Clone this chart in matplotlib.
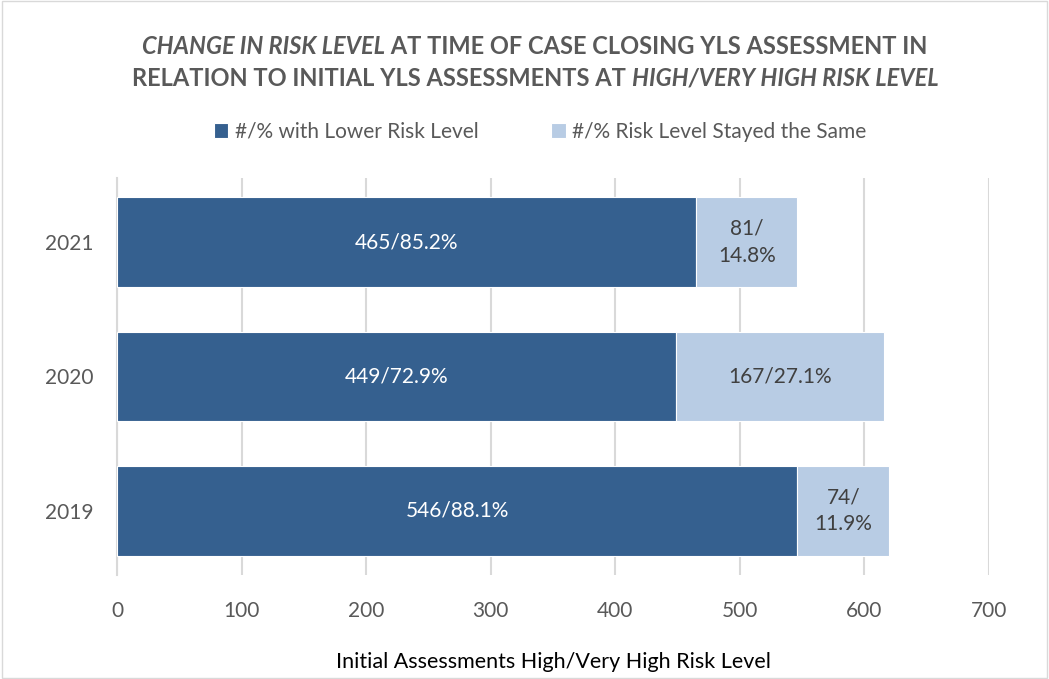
import matplotlib.pyplot as plt
import numpy as np
from matplotlib.patches import Rectangle

years = ['2019', '2020', '2021']
lower = [546, 449, 465]
same = [74, 167, 81]
lower_labels = ['546/88.1%', '449/72.9%', '465/85.2%']
same_labels = ['74/\n11.9%', '167/27.1%', '81/\n14.8%']

dark = '#35608f'
light = '#b8cce4'

plt.rcParams['font.family'] = ['Lato', 'DejaVu Sans']

fig = plt.figure(figsize=(10.49, 6.79), dpi=100)
ax = fig.add_axes([117 / 1049, 1 - 575 / 679, 872 / 1049, 397 / 679])

y = np.arange(len(years))
ax.barh(y, lower, height=0.67, color=dark, edgecolor='white', linewidth=0.8,
        label='#/% with Lower Risk Level', zorder=3)
ax.barh(y, same, left=lower, height=0.67, color=light, edgecolor='white', linewidth=0.8,
        label='#/% Risk Level Stayed the Same', zorder=3)

for i in range(len(years)):
    ax.text(lower[i] / 2, y[i], lower_labels[i], ha='center', va='center',
            color='white', fontsize=15, zorder=4)
    ax.text(lower[i] + same[i] / 2, y[i], same_labels[i], ha='center', va='center',
            color='#404040', fontsize=15, linespacing=1.45, zorder=4)

ax.set_xlim(0, 700)
ax.set_ylim(-0.48, 2.48)
ax.set_xticks(np.arange(0, 701, 100))
ax.set_yticks(y)
ax.set_yticklabels(years)
ax.tick_params(axis='both', length=0, labelsize=15, colors='#595959')
ax.tick_params(axis='x', pad=19)
ax.tick_params(axis='y', pad=17)
ax.grid(axis='x', color='#d9d9d9', linewidth=1.5, zorder=0)
for s in ax.spines.values():
    s.set_visible(False)
ax.spines['left'].set_visible(True)
ax.spines['left'].set_color('#d9d9d9')
ax.spines['left'].set_linewidth(1.5)

fig.text(553 / 1049, 1 - 662 / 679, 'Initial Assessments High/Very High Risk Level',
         ha='center', va='center', fontsize=15.5, color='black')

title_kw = dict(fontsize=17, fontweight='bold', color='#595959', va='center')

# build the two title lines from italic and normal pieces
lines = [
    [('CHANGE IN RISK LEVEL', 'italic'), (' AT TIME OF CASE CLOSING YLS ASSESSMENT IN', 'normal')],
    [('RELATION TO INITIAL YLS ASSESSMENTS AT ', 'normal'), ('HIGH/VERY HIGH RISK LEVEL', 'italic')],
]
fig.canvas.draw()
renderer = fig.canvas.get_renderer()
for k, parts in enumerate(lines):
    ypos = 1 - (46 + 32 * k) / 679
    texts = [fig.text(0, ypos, s, fontstyle=st, **title_kw) for s, st in parts]
    widths = [t.get_window_extent(renderer).width / fig.bbox.width for t in texts]
    x0 = 535 / 1049 - sum(widths) / 2
    for t, w in zip(texts, widths):
        t.set_x(x0)
        x0 += w

handles, labels = ax.get_legend_handles_labels()
fig.legend(handles, labels, loc='center', bbox_to_anchor=(540 / 1049, 1 - 132 / 679), ncol=2,
           frameon=False, fontsize=15, labelcolor='#595959', handlelength=0.7,
           handleheight=0.7, handletextpad=0.3, columnspacing=3.5)

fig.add_artist(Rectangle((0.002, 0.002), 0.996, 0.996, transform=fig.transFigure,
                         fill=False, edgecolor='#d9d9d9', linewidth=1))

fig.savefig('out.png', dpi=100)
